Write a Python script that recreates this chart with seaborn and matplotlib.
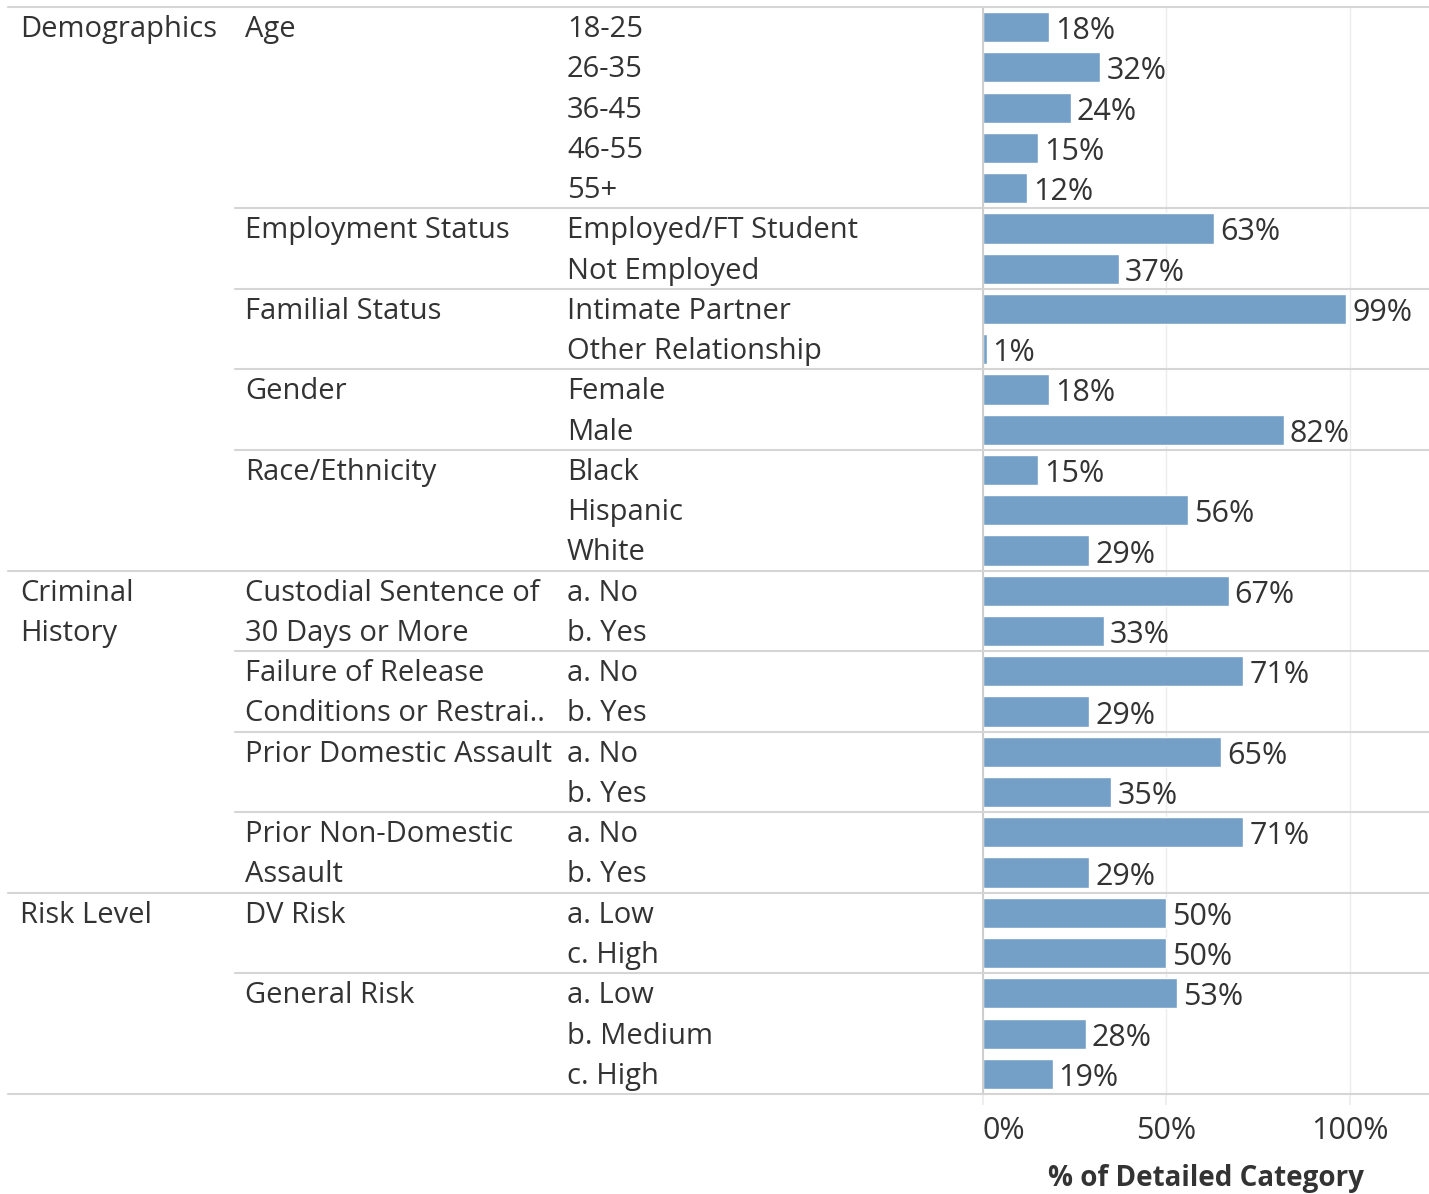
import numpy as np
import pandas as pd
import matplotlib
matplotlib.use('Agg')
import matplotlib.pyplot as plt
import matplotlib.transforms as mtransforms
from matplotlib.lines import Line2D
import seaborn as sns


# top level groups and the number of rows each one spans
TOP_GROUPS = ['Demographics', 'Criminal\nHistory', 'Risk Level']
TOP_SPANS = [14, 8, 5]

# sub groups (column 2) and their row spans
SUB_GROUPS = ['Age', 'Employment Status', 'Familial Status', 'Gender', 'Race/Ethnicity',
              'Custodial Sentence of\n30 Days or More', 'Failure of Release\nConditions or Restrai..',
              'Prior Domestic Assault', 'Prior Non-Domestic\nAssault',
              'DV Risk', 'General Risk']
SUB_SPANS = [5, 2, 2, 2, 3, 2, 2, 2, 2, 2, 3]

# detailed categories (column 3)
DETAILS = ['18-25', '26-35', '36-45', '46-55', '55+',
           'Employed/FT Student', 'Not Employed',
           'Intimate Partner', 'Other Relationship',
           'Female', 'Male',
           'Black', 'Hispanic', 'White',
           'a. No', 'b. Yes',
           'a. No', 'b. Yes',
           'a. No', 'b. Yes',
           'a. No', 'b. Yes',
           'a. Low', 'c. High',
           'a. Low', 'b. Medium', 'c. High']

PCT = [18, 32, 24, 15, 12,
       63, 37,
       99, 1,
       18, 82,
       15, 56, 29,
       67, 33,
       71, 29,
       65, 35,
       71, 29,
       50, 50,
       53, 28, 19]

BAR_COLOR = '#74a0c7'
TEXT_COLOR = '#333333'
SEP_COLOR = '#d5d5d5'
GRID_COLOR = '#ececec'
FS = 21      # header text
FS_NUM = 22  # numbers

sns.set_theme(style='white')
plt.rcParams['font.family'] = ['Open Sans', 'DejaVu Sans']

W, H = 1429, 1194
fig = plt.figure(figsize=(W / 100, H / 100), dpi=100)
ax = fig.add_axes([983 / W, 1 - 1094 / H, (1428 - 983) / W, (1094 - 7) / H])

n = len(DETAILS)
df = pd.DataFrame({'row': np.arange(n), 'pct': PCT})
sns.barplot(data=df, x='pct', y='row', orient='h', order=list(range(n)),
            color=BAR_COLOR, width=0.75, saturation=1, ax=ax)

ax.set_xlim(0, 121.3)
ax.set_ylim(n - 0.5, -0.5)
ax.set_yticks([])
ax.set_ylabel('')
ax.set_xticks([0, 50, 100])
ax.set_xticklabels(['0%', '50%', '100%'], fontsize=FS_NUM, color=TEXT_COLOR)
ax.get_xticklabels()[0].set_ha('left')
ax.tick_params(axis='x', length=8, color=GRID_COLOR, pad=8, bottom=True)
ax.xaxis.grid(True, color=GRID_COLOR, linewidth=1)
ax.set_axisbelow(True)
for s in ['top', 'right', 'bottom']:
    ax.spines[s].set_visible(False)
ax.spines['left'].set_color('#c8c8c8')
ax.set_xlabel('% of Detailed Category', fontsize=20, fontweight='bold',
              color=TEXT_COLOR, labelpad=13)

# value labels at bar ends
for i, v in enumerate(PCT):
    ax.text(v + 1.6, i + 0.1, f'{v}%', va='center', ha='left',
            fontsize=FS_NUM, color=TEXT_COLOR)

trans = mtransforms.blended_transform_factory(fig.transFigure, ax.transData)
dy = 0.06

# detail labels
for i, lab in enumerate(DETAILS):
    fig.text(567 / W, i + dy, lab, transform=trans, va='center', ha='left',
             fontsize=FS, color=TEXT_COLOR)

# sub group labels + separators
start = 0
top_starts = np.cumsum([0] + TOP_SPANS)[:-1]
for lab, span in zip(SUB_GROUPS, SUB_SPANS):
    for k, line in enumerate(lab.split('\n')):
        fig.text(245 / W, start + k + dy, line, transform=trans, va='center', ha='left',
                 fontsize=FS, color=TEXT_COLOR)
    if start not in top_starts:
        fig.add_artist(Line2D([235 / W, 1], [start - 0.5, start - 0.5],
                              transform=trans, color=SEP_COLOR, linewidth=1.5))
    start += span

# top group labels + separators
start = 0
for lab, span in zip(TOP_GROUPS, TOP_SPANS):
    for k, line in enumerate(lab.split('\n')):
        fig.text(20 / W, start + k + dy, line, transform=trans, va='center', ha='left',
                 fontsize=FS, color=TEXT_COLOR)
    fig.add_artist(Line2D([8 / W, 1], [start - 0.5, start - 0.5],
                          transform=trans, color=SEP_COLOR, linewidth=1.5))
    start += span
fig.add_artist(Line2D([8 / W, 1], [n - 0.5, n - 0.5],
                      transform=trans, color=SEP_COLOR, linewidth=1.5))

fig.savefig('out.png', dpi=100, facecolor='white')
